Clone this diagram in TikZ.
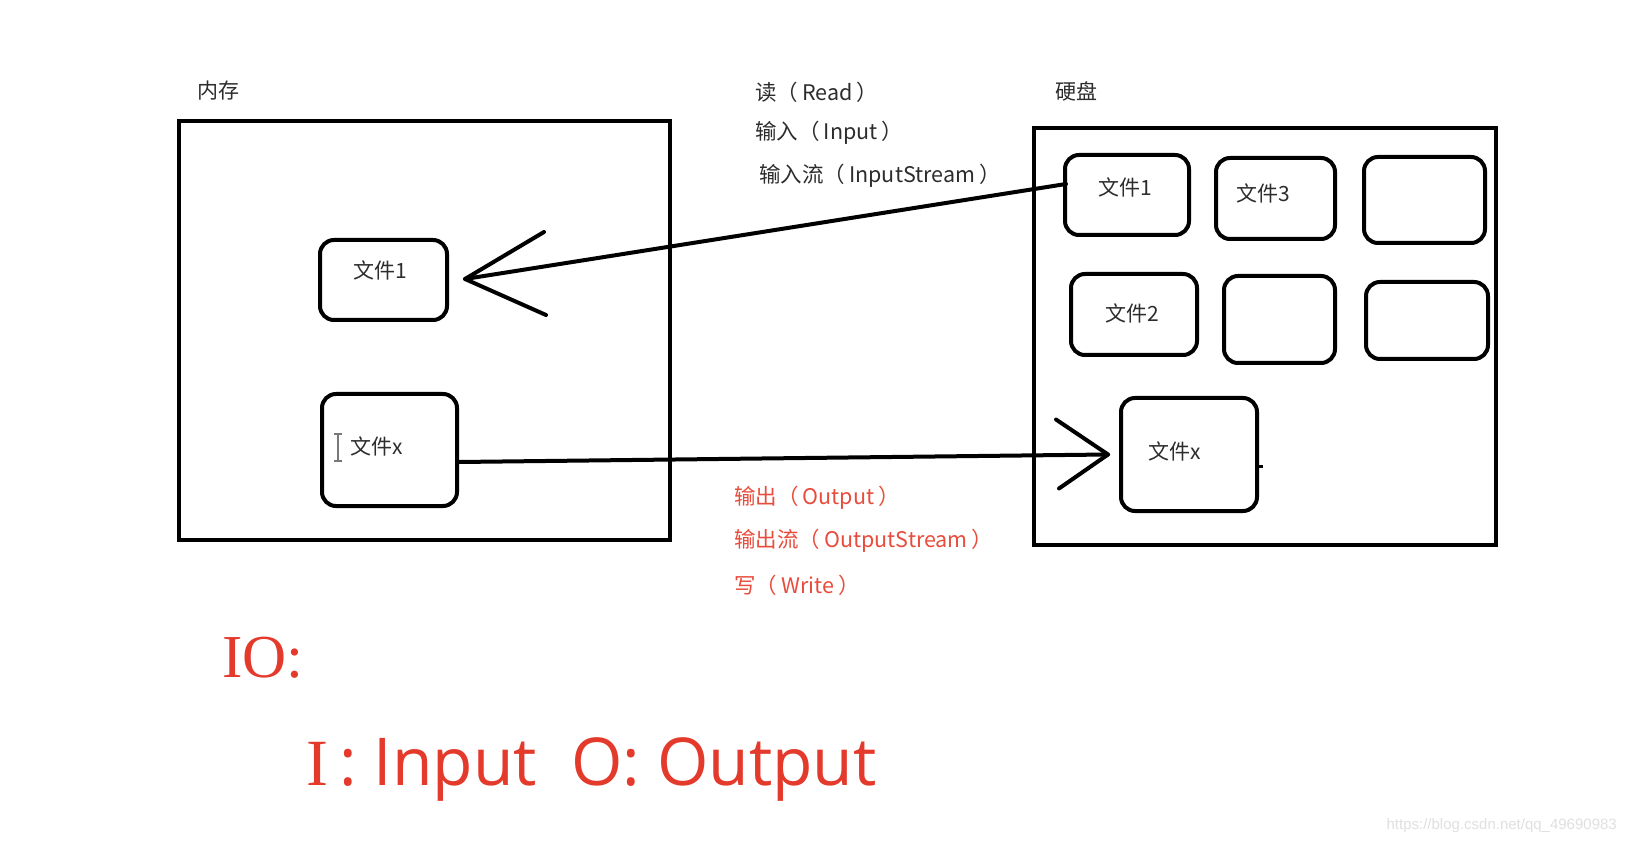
\documentclass[tikz,border=0pt]{standalone}
\usepackage{fontspec}
\setmainfont{Noto Sans CJK SC}
\newfontfamily\serifio{Liberation Serif}
\newfontfamily\sansio{Open Sans}
\newfontfamily\wmfont{Liberation Sans}
\usetikzlibrary{calc}
\definecolor{ioRed}{RGB}{228,58,44}
\definecolor{lblRed}{RGB}{232,76,60}
\definecolor{lblGray}{RGB}{45,45,45}
\definecolor{cursorGray}{RGB}{120,120,120}
\newcommand{\pl}{（\hspace{4pt}}
\newcommand{\pr}{\hspace{4pt}）}
\tikzset{
  bigbox/.style={draw, line width=4pt, inner sep=0pt},
  filebox/.style={draw, line width=4pt, rounded corners=14pt, inner sep=0pt},
  conn/.style={line width=4pt, line cap=round, line join=round},
  ftxt/.style={font=\fontsize{21}{24}\selectfont, text=lblGray, inner sep=0pt},
  lbl/.style={font=\fontsize{21.5}{24}\selectfont, text=lblGray, inner sep=0pt, anchor=west},
  rlbl/.style={font=\fontsize{21.5}{24}\selectfont, text=lblRed, inner sep=0pt, anchor=west},
}
\begin{document}
\begin{tikzpicture}[x=1pt,y=-1pt]
\useasboundingbox[fill=white] (0,0) rectangle (1626,842);

% memory
\node[bigbox, minimum width=491pt, minimum height=419pt] (mem) at (424.5,330.5) {};
\node[ftxt] (memlbl) at (218,91) {内存};
\node[filebox, minimum width=127pt, minimum height=80pt] (mf1) at (383.5,280) {};
\node[ftxt] (mf1t) at (380,270) {文件1};
\node[filebox, minimum width=135pt, minimum height=112pt] (mfx) at (389.5,450) {};
\node[ftxt] (mfxt) at (377,446) {文件x};
% text cursor
\draw[cursorGray, line width=1.8pt] (338,434) -- (338,461) (334,434) -- (342,434) (334,461) -- (342,461);

% hard disk
\node[bigbox, minimum width=462pt, minimum height=417pt] (hdd) at (1265,336.5) {};
\node[ftxt] (hddlbl) at (1076,91) {硬盘};
\node[filebox, minimum width=124pt, minimum height=80pt] (hf1) at (1127,195) {};
\node[ftxt] (hf1t) at (1125,187) {文件1};
\node[filebox, minimum width=119pt, minimum height=81pt] (hf3) at (1275.5,198.5) {};
\node[ftxt] (hf3t) at (1263,193) {文件3};
\node[filebox, minimum width=121pt, minimum height=86pt] (he1) at (1424.5,200) {};
\node[filebox, minimum width=126pt, minimum height=81pt] (hf2) at (1134,314.5) {};
\node[ftxt] (hf2t) at (1132,313) {文件2};
\node[filebox, minimum width=111pt, minimum height=87pt] (he2) at (1279.5,319.5) {};
\node[filebox, minimum width=122pt, minimum height=77pt] (he3) at (1427,320.5) {};
\node[filebox, minimum width=136pt, minimum height=113pt] (hfx) at (1189,454.5) {};
\node[ftxt] (hfxt) at (1175,451) {文件x};
\draw[line width=3pt] ($(hfx.east)+(0,12)$) -- ++(4,0);

% read arrow
\coordinate (tipA) at ($(mf1.east)+(16,-1)$);
\draw[conn] ($(hf1.west)+(3,-11)$) -- (tipA);
\draw[conn] ($(tipA)+(79,-47)$) -- (tipA) -- ($(tipA)+(81,36)$);

% write arrow
\coordinate (tipB) at ($(hfx.west)+(-11,0)$);
\draw[conn] ($(mfx.east)+(0,12)$) -- (tipB);
\draw[conn] ($(tipB)+(-52,-35)$) -- (tipB) -- ($(tipB)+(-49,34)$);

% labels
\node[lbl] (r1) at (755,92) {读\pl Read\pr};
\node[lbl] (r2) at (755,133) {输入\pl Input\pr};
\node[lbl] (r3) at (759,176) {输入流\pl InputStream\pr};
\node[rlbl] (w1) at (734,498) {输出\pl Output\pr};
\node[rlbl] (w2) at (734,541) {输出流\pl OutputStream\pr};
\node[rlbl] (w3) at (734,585) {写\pl Write\pr};

% IO
\node[anchor=base west, inner sep=0pt, text=ioRed, font=\serifio\fontsize{61}{64}\selectfont] (io) at (222,677) {IO:};
\node[anchor=base west, inner sep=0pt, text=ioRed, font=\sansio\fontsize{66}{70}\selectfont] (iodef) at (306,785) {{\serifio I}\,: Input\hspace{34pt}O: Output};

% watermark
\node[anchor=east, inner sep=0pt, text=black!12, font=\wmfont\fontsize{15}{17}\selectfont] (wm) at (1617,826) {https://blog.csdn.net/qq\_49690983};
\end{tikzpicture}
\end{document}
